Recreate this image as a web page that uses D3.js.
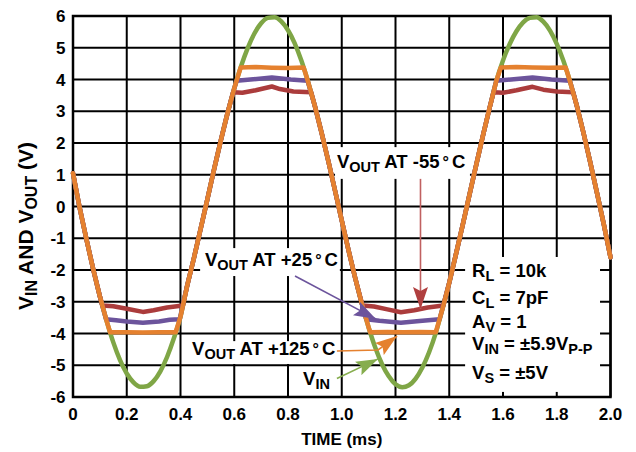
<!DOCTYPE html>
<html><head><meta charset="utf-8">
<script src="https://cdn.jsdelivr.net/npm/d3@7"></script>
<style>
body{margin:0;background:#fff}
svg{display:block}
text{font-family:"Liberation Sans",Arial,Helvetica,sans-serif;font-weight:bold;fill:#000}
</style>
</head><body>
<svg id="chart" width="636" height="452"></svg>
<script>
// ---- data ----
const timeTicks = [0,0.2,0.4,0.6,0.8,1.0,1.2,1.4,1.6,1.8,2.0];
const timeTickLabels = ["0","0.2","0.4","0.6","0.8","1.0","1.2","1.4","1.6","1.8","2.0"];
const voltTicks = [-6,-5,-4,-3,-2,-1,0,1,2,3,4,5,6];
const voltTickLabels = ["-6","-5","-4","-3","-2","-1","0","1","2","3","4","5","6"];

const vinTime = [0,0.025,0.05,0.075,0.1,0.125,0.15,0.175,0.2,0.225,0.25,0.275,0.3,0.325,0.35,0.375,0.4,0.425,0.45,0.475,0.5,0.525,0.55,0.575,0.6,0.625,0.65,0.675,0.7,0.725,0.75,0.775,0.8,0.825,0.85,0.875,0.9,0.925,0.95,0.975,1.0,1.025,1.05,1.075,1.1,1.125,1.15,1.175,1.2,1.225,1.25,1.275,1.3,1.325,1.35,1.375,1.4,1.425,1.45,1.475,1.5,1.525,1.55,1.575,1.6,1.625,1.65,1.675,1.7,1.725,1.75,1.775,1.8,1.825,1.85,1.875,1.9,1.925,1.95,1.975,2.0];
const vinValues = [1.05,-0.05,-1.03,-1.97,-2.83,-3.60,-4.28,-4.84,-5.26,-5.54,-5.68,-5.66,-5.50,-5.19,-4.74,-4.16,-3.47,-2.49,-1.62,-0.70,0.23,1.17,2.08,2.94,3.72,4.41,4.99,5.45,5.77,5.94,5.96,5.83,5.55,5.14,4.59,3.92,3.16,2.32,1.43,0.50,-0.44,-1.37,-2.25,-3.07,-3.81,-4.45,-4.97,-5.35,-5.60,-5.69,-5.63,-5.42,-5.07,-4.59,-3.98,-3.22,-2.40,-1.50,-0.58,0.36,1.30,2.22,3.10,3.95,4.60,5.12,5.52,5.80,5.94,5.96,5.82,5.54,5.12,4.58,3.92,3.16,2.30,1.38,0.42,-0.56,-1.60];

const vout125Time = [0,0.025,0.05,0.075,0.1,0.125,0.138,0.2,0.26,0.32,0.382,0.4,0.425,0.45,0.475,0.5,0.525,0.55,0.575,0.6,0.624,0.68,0.74,0.8,0.858,0.875,0.9,0.925,0.95,0.975,1.0,1.025,1.05,1.075,1.1,1.106,1.17,1.23,1.29,1.35,1.375,1.4,1.425,1.45,1.475,1.5,1.525,1.55,1.575,1.592,1.65,1.71,1.77,1.833,1.85,1.875,1.9,1.925,1.95,1.975,2.0];
const vout125Values = [1.05,-0.05,-1.03,-1.97,-2.83,-3.60,-3.96,-3.96,-3.97,-3.96,-3.96,-3.47,-2.49,-1.62,-0.70,0.23,1.17,2.08,2.94,3.72,4.38,4.39,4.37,4.36,4.38,3.92,3.16,2.32,1.43,0.50,-0.44,-1.37,-2.25,-3.07,-3.81,-3.96,-3.95,-3.96,-3.95,-3.96,-3.22,-2.40,-1.50,-0.58,0.36,1.30,2.22,3.10,3.95,4.38,4.39,4.38,4.37,4.38,3.92,3.16,2.30,1.38,0.42,-0.56,-1.60];

const vout25Time = [0,0.025,0.05,0.075,0.1,0.123,0.16,0.2,0.26,0.32,0.36,0.397,0.425,0.45,0.475,0.5,0.525,0.55,0.575,0.6,0.609,0.66,0.74,0.81,0.873,0.9,0.925,0.95,0.975,1.0,1.025,1.05,1.075,1.091,1.14,1.22,1.3,1.364,1.4,1.425,1.45,1.475,1.5,1.525,1.55,1.575,1.63,1.71,1.78,1.849,1.875,1.9,1.925,1.95,1.975,2.0];
const vout25Values = [1.05,-0.05,-1.03,-1.97,-2.83,-3.55,-3.58,-3.62,-3.66,-3.62,-3.57,-3.55,-2.49,-1.62,-0.70,0.23,1.17,2.08,2.94,3.72,3.96,4.0,4.06,4.0,3.96,3.16,2.32,1.43,0.50,-0.44,-1.37,-2.25,-3.07,-3.55,-3.6,-3.66,-3.6,-3.55,-2.40,-1.50,-0.58,0.36,1.30,2.22,3.10,3.96,4.0,4.06,4.0,3.96,3.16,2.30,1.38,0.42,-0.56,-1.60];

const voutM55Time = [0,0.025,0.05,0.075,0.1,0.109,0.15,0.2,0.26,0.3,0.35,0.409,0.425,0.45,0.475,0.5,0.525,0.55,0.575,0.596,0.63,0.68,0.74,0.77,0.82,0.886,0.9,0.925,0.95,0.975,1.0,1.025,1.05,1.077,1.12,1.17,1.22,1.27,1.32,1.378,1.4,1.425,1.45,1.475,1.5,1.525,1.55,1.565,1.6,1.65,1.71,1.75,1.8,1.861,1.875,1.9,1.925,1.95,1.975,2.0];
const voutM55Values = [1.05,-0.05,-1.03,-1.97,-2.83,-3.12,-3.14,-3.22,-3.32,-3.27,-3.18,-3.12,-2.49,-1.62,-0.70,0.23,1.17,2.08,2.94,3.6,3.58,3.66,3.78,3.7,3.62,3.6,3.16,2.32,1.43,0.50,-0.44,-1.37,-2.25,-3.12,-3.15,-3.24,-3.33,-3.27,-3.18,-3.12,-2.40,-1.50,-0.58,0.36,1.30,2.22,3.10,3.6,3.58,3.66,3.77,3.68,3.62,3.6,3.16,2.30,1.38,0.42,-0.56,-1.60];

// ---- layout ----
const W = 636, H = 452;
const plot = {left:73, right:610.5, top:16, bottom:397};
const x = d3.scaleLinear().domain([0,2]).range([plot.left, plot.right]);
const y = d3.scaleLinear().domain([-6,6]).range([plot.bottom, plot.top]);

const svg = d3.select("#chart");
svg.append("rect").attr("width",W).attr("height",H).attr("fill","#fff");

// grid
const grid = svg.append("g").attr("stroke","#000").attr("stroke-width",2);
grid.selectAll("line.v").data(timeTicks).join("line")
  .attr("x1",d=>x(d)).attr("x2",d=>x(d)).attr("y1",plot.top).attr("y2",plot.bottom);
grid.selectAll("line.h").data(voltTicks).join("line")
  .attr("x1",plot.left).attr("x2",plot.right).attr("y1",d=>y(d)).attr("y2",d=>y(d));

// tick labels
svg.append("g").selectAll("text").data(timeTicks).join("text")
  .attr("x",d=>x(d)).attr("y",420).attr("text-anchor","middle")
  .attr("font-size",17).text((d,i)=>timeTickLabels[i]);
svg.append("g").selectAll("text").data(voltTicks).join("text")
  .attr("x",65.5).attr("y",d=>y(d)+6).attr("text-anchor","end")
  .attr("font-size",17).text((d,i)=>voltTickLabels[i]);

// axis titles
svg.append("text").attr("x",(plot.left+plot.right)/2).attr("y",445)
  .attr("text-anchor","middle").attr("font-size",17).text("TIME (ms)");
const yt = svg.append("text").attr("transform","translate(33,226) rotate(-90)")
  .attr("text-anchor","middle").attr("font-size",21);
yt.append("tspan").text("V");
yt.append("tspan").attr("font-size",16).attr("dy",4).text("IN");
yt.append("tspan").attr("dy",-4).text(" AND V");
yt.append("tspan").attr("font-size",16).attr("dy",4).text("OUT");
yt.append("tspan").attr("dy",-4).text(" (V)");

// white boxes behind annotations (hide grid)
const boxes = [
  {t0:0.975,t1:1.477,v0:1.87,v1:0.87},
  {t0:0.473,t1:0.993,v0:-1.31,v1:-2.19},
  {t0:0.42,t1:0.982,v0:-4.24,v1:-4.96},
  {t0:1.459,t1:1.961,v0:-1.59,v1:-5.84}
];
svg.append("g").selectAll("rect").data(boxes).join("rect")
  .attr("x",d=>x(d.t0)).attr("y",d=>y(d.v0))
  .attr("width",d=>x(d.t1)-x(d.t0)).attr("height",d=>y(d.v1)-y(d.v0))
  .attr("fill","#fff");

// frame
svg.append("rect").attr("x",plot.left).attr("y",plot.top)
  .attr("width",plot.right-plot.left).attr("height",plot.bottom-plot.top)
  .attr("fill","none").attr("stroke","#000").attr("stroke-width",2.5);

// curves
const series = [
  {t:vinTime, v:vinValues, color:"#7fa646", curve:d3.curveMonotoneX},
  {t:voutM55Time, v:voutM55Values, color:"#ab3c3c", curve:d3.curveLinear},
  {t:vout25Time, v:vout25Values, color:"#6c549c", curve:d3.curveLinear},
  {t:vout125Time, v:vout125Values, color:"#e5812f", curve:d3.curveLinear}
];
series.forEach(s=>{
  const pts = s.t.map((t,i)=>[t,s.v[i]]);
  svg.append("path").datum(pts)
    .attr("d", d3.line().x(d=>x(d[0])).y(d=>y(d[1])).curve(s.curve))
    .attr("fill","none").attr("stroke",s.color).attr("stroke-width",4.5)
    .attr("stroke-linejoin","round").attr("stroke-linecap","round");
});

// arrow markers
const defs = svg.append("defs");
function marker(id,color){
  defs.append("marker").attr("id",id).attr("viewBox","0 0 22 15")
    .attr("refX",22).attr("refY",7.5).attr("markerWidth",22).attr("markerHeight",15)
    .attr("markerUnits","userSpaceOnUse").attr("orient","auto")
    .append("path").attr("d","M0,0 L22,7.5 L0,15 L4,7.5 Z").attr("fill",color);
}
marker("aRed","#b03f3f");
marker("aPur","#6c549c");
marker("aOra","#e5812f");
marker("aGrn","#86ad4e");

const arrows = [
  {pts:[[1.293,0.87],[1.293,-3.23]], color:"#c06060", m:"aRed"},
  {pts:[[0.826,-2.19],[1.127,-3.54]], color:"#6c549c", m:"aPur"},
  {pts:[[0.982,-4.55],[1.135,-4.52],[1.206,-4.08]], color:"#e5812f", m:"aOra"},
  {pts:[[0.982,-5.42],[1.135,-4.80]], color:"#86ad4e", m:"aGrn"}
];
arrows.forEach(a=>{
  svg.append("path").datum(a.pts)
    .attr("d", d3.line().x(d=>x(d[0])).y(d=>y(d[1])))
    .attr("fill","none").attr("stroke",a.color).attr("stroke-width",1.6)
    .attr("marker-end","url(#"+a.m+")");
});

// annotation labels
function voutLabel(t,v,temp){
  const tx = svg.append("text").attr("x",x(t)).attr("y",y(v)).attr("font-size",18.5);
  tx.append("tspan").text("V");
  tx.append("tspan").attr("font-size",14.5).attr("dy",4).text("OUT");
  tx.append("tspan").attr("dy",-4).text(" AT "+temp);
  tx.append("tspan").attr("dx",3).attr("font-size",16).text("°");
  tx.append("tspan").attr("dx",3).text("C");
}
voutLabel(0.982,1.21,"-55");
voutLabel(0.491,-1.87,"+25");
voutLabel(0.443,-4.68,"+125");
const vin = svg.append("text").attr("x",x(0.856)).attr("y",y(-5.62)).attr("font-size",18.5);
vin.append("tspan").text("V");
vin.append("tspan").attr("font-size",14.5).attr("dy",4).text("IN");

// conditions box text
const cond = [
  {main:"R", sub:"L", rest:" = 10k", v:-2.22},
  {main:"C", sub:"L", rest:" = 7pF", v:-3.07},
  {main:"A", sub:"V", rest:" = 1", v:-3.83},
  {main:"V", sub:"IN", rest:" = ±5.9V", sub2:"P-P", v:-4.52},
  {main:"V", sub:"S", rest:" = ±5V", v:-5.43}
];
cond.forEach(c=>{
  const tx = svg.append("text").attr("x",x(1.485)).attr("y",y(c.v)).attr("font-size",18.5);
  tx.append("tspan").text(c.main);
  tx.append("tspan").attr("font-size",14.5).attr("dy",4).text(c.sub);
  tx.append("tspan").attr("dy",-4).text(c.rest);
  if(c.sub2){ tx.append("tspan").attr("font-size",14.5).attr("dy",4).text(c.sub2); }
});
</script>
</body></html>
